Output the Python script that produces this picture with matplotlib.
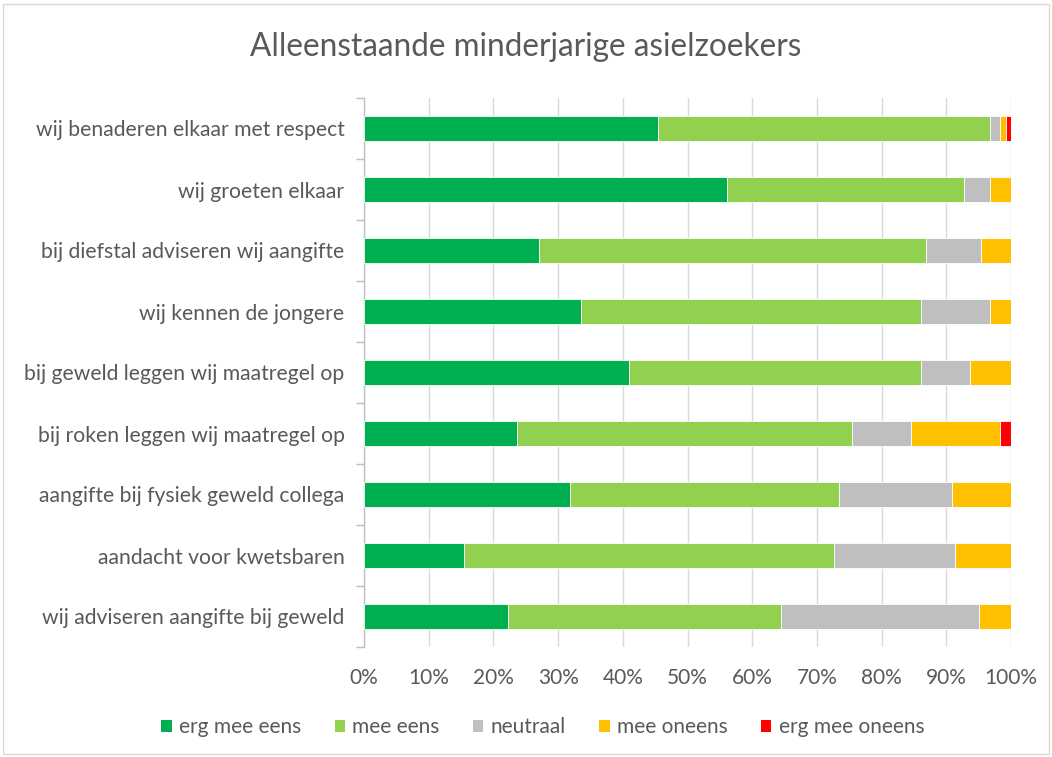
import matplotlib
matplotlib.use("Agg")
import matplotlib.pyplot as plt
import numpy as np
from matplotlib.patches import Rectangle
from matplotlib.ticker import FuncFormatter, FixedLocator

categories = [
    "wij benaderen elkaar met respect",
    "wij groeten elkaar",
    "bij diefstal adviseren wij aangifte",
    "wij kennen de jongere",
    "bij geweld leggen wij maatregel op",
    "bij roken leggen wij maatregel op",
    "aangifte bij fysiek geweld collega",
    "aandacht voor kwetsbaren",
    "wij adviseren aangifte bij geweld",
]
erg_mee_eens = [45.5, 56.1, 27.1, 33.6, 41.0, 23.7, 31.8, 15.4, 22.3]
mee_eens = [51.2, 36.7, 59.8, 52.5, 45.1, 51.8, 41.6, 57.3, 42.2]
neutraal = [1.6, 3.9, 8.4, 10.6, 7.5, 9.0, 17.5, 18.7, 30.6]
mee_oneens = [1.0, 3.3, 4.7, 3.3, 6.4, 13.8, 9.1, 8.6, 4.9]
erg_mee_oneens = [0.7, 0.0, 0.0, 0.0, 0.0, 1.7, 0.0, 0.0, 0.0]

series_names = ["erg mee eens", "mee eens", "neutraal", "mee oneens", "erg mee oneens"]
colors = ["#00B050", "#92D050", "#BFBFBF", "#FFC000", "#FF0000"]
title = "Alleenstaande minderjarige asielzoekers"

plt.rcParams['font.family'] = ['Lato', 'DejaVu Sans']
text_color = "#595959"

fig = plt.figure(figsize=(10.52, 7.57), dpi=100)
ax = fig.add_axes([364/1052, 1-647/757, (1011-364)/1052, (647-98)/757])

data = np.array([erg_mee_eens, mee_eens, neutraal, mee_oneens, erg_mee_oneens], dtype=float)
totals = data.sum(axis=0)
pct = data / totals * 100
y = np.arange(len(categories))
left = np.zeros(len(categories))
for i, name in enumerate(series_names):
    ax.barh(y, pct[i], left=left, height=0.4, color=colors[i], label=name,
            edgecolor='white', linewidth=0.6, zorder=3)
    left += pct[i]

ax.set_xlim(0, 100)
ax.set_ylim(len(categories) - 0.5, -0.5)
ax.set_xticks(np.arange(0, 101, 10))
ax.xaxis.set_major_formatter(FuncFormatter(lambda v, p: f"{int(v)}%"))
ax.grid(axis='x', color='#D9D9D9', linewidth=1.0, zorder=0)
ax.set_axisbelow(True)

ax.set_yticks(y)
ax.set_yticklabels(categories)
ax.yaxis.set_minor_locator(FixedLocator(np.arange(-0.5, len(categories), 1)))
ax.tick_params(axis='y', which='major', length=0, pad=14, labelsize=15.2, labelcolor=text_color)
ax.tick_params(axis='y', which='minor', length=6, color='#BFBFBF', width=1)
ax.tick_params(axis='x', length=0, pad=15, labelsize=15, labelcolor=text_color)

for s in ['top', 'right', 'bottom']:
    ax.spines[s].set_visible(False)
ax.spines['left'].set_color('#BFBFBF')
ax.spines['left'].set_linewidth(1)

fig.text(0.5, 1-47/757, title, ha='center', va='center', fontsize=22.7,
         color=text_color, fontweight='normal')

handles, labels = ax.get_legend_handles_labels()
leg = fig.legend(handles, labels, loc='center', bbox_to_anchor=(0.516, 1-727/757), ncol=5,
                 frameon=False, fontsize=15, handlelength=0.5, handleheight=0.5,
                 handletextpad=0.35, columnspacing=1.6, labelcolor=text_color)
for h in leg.legend_handles:
    h.set_edgecolor('none')

fig.patches.append(Rectangle((3/1052, 3/757), 1-6/1052, 1-7/757, transform=fig.transFigure,
                             fill=False, edgecolor='#D9D9D9', linewidth=1))

fig.savefig("out.png", dpi=100, facecolor='white')
